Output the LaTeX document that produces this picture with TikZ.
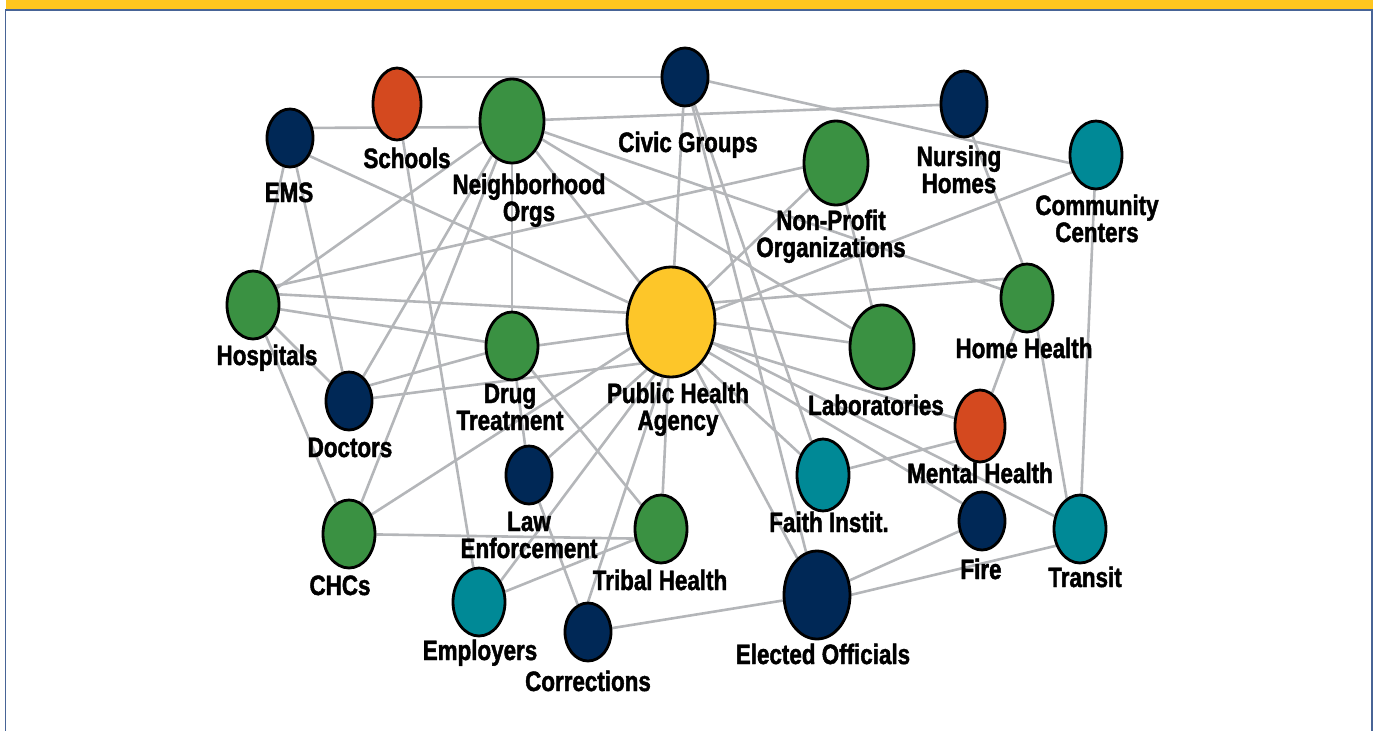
\documentclass[tikz,border=0pt]{standalone}
\usepackage{fontspec}
\newfontfamily\lblfont{Liberation Sans}[FakeStretch=0.80, FakeBold=1.6]
\usetikzlibrary{shapes.geometric,calc}
\pgfdeclarelayer{edges}
\pgfsetlayers{edges,main}
\definecolor{navy}{RGB}{0,40,86}
\definecolor{grn}{RGB}{58,145,66}
\definecolor{org}{RGB}{212,73,31}
\definecolor{tealc}{RGB}{0,137,150}
\definecolor{yel}{RGB}{253,198,41}
\definecolor{edgegray}{RGB}{180,182,185}
\definecolor{band}{RGB}{255,198,30}
\definecolor{frameblue}{RGB}{72,100,150}
\tikzset{
  orgn/.style={ellipse, draw=black, line width=2.8pt, inner sep=0pt},
  sm/.style={minimum width=46pt, minimum height=58pt},
  md/.style={minimum width=52pt, minimum height=68pt},
  lg/.style={minimum width=64pt, minimum height=84pt},
  lbl/.style={font=\lblfont\bfseries\fontsize{28}{27}\selectfont, align=center, inner sep=0pt, anchor=base},
  link/.style={draw=edgegray, line width=2.6pt},
}
\begin{document}
\begin{tikzpicture}[x=1pt,y=-1pt]
\useasboundingbox (0,0) rectangle (1377,731);
% frame
\fill[band] (5.5,0) rectangle (1372.5,9.5);
\draw[frameblue, line width=1.5pt] (5.5,731) -- (5.5,10) -- (1372,10) -- (1372,731);

% nodes
\node[orgn, sm, fill=navy] (EMS) at (290,138) {};
\node[orgn, fill=org, minimum width=48pt, minimum height=72pt] (SCH) at (397,104) {};
\node[orgn, lg, fill=grn] (NBH) at (512,121) {};
\node[orgn, sm, fill=navy] (CIV) at (685,77) {};
\node[orgn, lg, fill=grn] (NPO) at (836,163) {};
\node[orgn, fill=navy, minimum width=46pt, minimum height=66pt] (NUR) at (964,104) {};
\node[orgn, md, fill=tealc] (COM) at (1096,155) {};
\node[orgn, md, fill=grn] (HOS) at (253,305) {};
\node[orgn, sm, fill=navy] (DOC) at (349,401) {};
\node[orgn, md, fill=grn] (DRG) at (512,346) {};
\node[orgn, fill=yel, minimum width=88pt, minimum height=110pt] (PHA) at (671,322) {};
\node[orgn, lg, fill=grn] (LAB) at (882,347) {};
\node[orgn, md, fill=grn] (HOM) at (1027,298) {};
\node[orgn, fill=org, minimum width=50pt, minimum height=72pt] (MEN) at (980,426) {};
\node[orgn, fill=tealc, minimum width=52pt, minimum height=72pt] (FAI) at (823,475) {};
\node[orgn, sm, fill=navy] (LAW) at (529,475) {};
\node[orgn, md, fill=grn] (TRI) at (661,529) {};
\node[orgn, md, fill=tealc] (EMP) at (479,602) {};
\node[orgn, sm, fill=navy] (COR) at (588,632) {};
\node[orgn, fill=navy, minimum width=66pt, minimum height=88pt] (ELE) at (817,595) {};
\node[orgn, sm, fill=navy] (FIR) at (982,521) {};
\node[orgn, md, fill=tealc] (TRA) at (1080,529) {};
\node[orgn, md, fill=grn] (CHC) at (349,534) {};

% labels (base = baseline of last line)
\node[lbl] (lEMS) at (289,202) {EMS};
\node[lbl] (lSCH) at (407,168) {Schools};
\node[lbl] (lNBH) at (529,221) {Neighborhood\\Orgs};
\node[lbl] (lCIV) at (688,152) {Civic Groups};
\node[lbl] (lNPO) at (831,257) {Non-Profit\\Organizations};
\node[lbl] (lNUR) at (959,193) {Nursing\\Homes};
\node[lbl] (lCOM) at (1097,242) {Community\\Centers};
\node[lbl] (lHOS) at (267,365) {Hospitals};
\node[lbl] (lDOC) at (350,457) {Doctors};
\node[lbl] (lDRG) at (510,430) {Drug\\Treatment};
\node[lbl] (lPHA) at (678,430) {Public Health\\Agency};
\node[lbl] (lLAB) at (876,415) {Laboratories};
\node[lbl] (lHOM) at (1024,358) {Home Health};
\node[lbl] (lMEN) at (980,483) {Mental Health};
\node[lbl] (lFAI) at (829,532) {Faith Instit.};
\node[lbl] (lLAW) at (529,558) {Law\\Enforcement};
\node[lbl] (lTRI) at (660,590) {Tribal Health};
\node[lbl] (lEMP) at (480,660) {Employers};
\node[lbl] (lCOR) at (588,691) {Corrections};
\node[lbl] (lELE) at (823,664) {Elected Officials};
\node[lbl] (lFIR) at (981,579) {Fire};
\node[lbl] (lTRA) at (1085,587) {Transit};
\node[lbl] (lCHC) at (340,595) {CHCs};

% connectors
\begin{pgfonlayer}{edges}
\draw[link] ($(EMS)+(0,-10)$) -- ($(NBH)+(0,6)$);
\draw[link] (CIV) -- (CIV -| SCH);
\draw[link] ($(EMS)+(0,9)$) -- (PHA);
\draw[link] (EMS) -- (HOS);
\draw[link] (EMS) -- (DOC);
\draw[link] (SCH) -- (EMP);
\draw[link] (NBH) -- (HOS);
\draw[link] (NBH) -- (DOC);
\draw[link] (NBH) -- (CHC);
\draw[link] (NBH) -- (DRG);
\draw[link] (NBH) -- (PHA);
\draw[link] (NBH) -- (LAB);
\draw[link] (NBH) -- (HOM);
\draw[link] (NBH) -- (NUR);
\draw[link] ($(CIV)+(0,-1)$) -- ($(COM)+(0,14)$);
\draw[link] (CIV) -- (PHA);
\draw[link] (CIV) -- (FAI);
\draw[link] (CIV) -- (ELE);
\draw[link] ($(NPO)+(0,-3)$) -- ($(HOS)+(0,-14)$);
\draw[link] (NPO) -- (PHA);
\draw[link] (NPO) -- (LAB);
\draw[link] ($(NUR)+(-4,0)$) -- ($(HOM)+(9,0)$);
\draw[link] ($(COM)+(0,8)$) -- ($(PHA)+(0,5)$);
\draw[link] (COM) -- (TRA);
\draw[link] ($(HOS)+(0,-12)$) -- ($(PHA)+(0,-7)$);
\draw[link] (HOS) -- (DRG);
\draw[link] (HOS) -- (DOC);
\draw[link] (HOS) -- (CHC);
\draw[link] ($(DOC)+(0,-10)$) -- (DRG);
\draw[link] (DOC) -- ($(PHA)+(-11,39)$);
\draw[link] ($(DRG)+(0,3)$) -- ($(PHA)+(0,5)$);
\draw[link] (DRG) -- (LAW);
\draw[link] (DRG) -- (TRI);
\draw[link] (PHA) -- ($(CHC)+(0,-5)$);
\draw[link] (LAW) -- ($(PHA)+(0,26)$);
\draw[link] (PHA) -- (TRI);
\draw[link] ($(EMP)+(0,8)$) -- ($(PHA)+(0,31)$);
\draw[link] ($(COR)+(-10,0)$) -- ($(PHA)+(10,0)$);
\draw[link] (PHA) -- (ELE);
\draw[link] ($(PHA)+(0,13)$) -- (FAI);
\draw[link] ($(PHA)+(0,8)$) -- (MEN);
\draw[link] ($(PHA)+(0,8)$) -- ($(FIR)+(0,-6)$);
\draw[link] (PHA) -- (TRA);
\draw[link] ($(PHA)+(0,-5)$) -- (LAB);
\draw[link] ($(PHA)+(0,-16)$) -- ($(HOM)+(0,-21)$);
\draw[link] (HOM) -- (MEN);
\draw[link] ($(HOM)+(5,0)$) -- ($(TRA)+(-8,0)$);
\draw[link] (FAI) -- ($(MEN)+(0,9)$);
\draw[link] (FIR) -- (ELE);
\draw[link] ($(TRA)+(0,11)$) -- ($(ELE)+(0,8)$);
\draw[link] (COR) -- (ELE);
\draw[link] (LAW) -- (COR);
\draw[link] (CHC) -- ($(TRI)+(0,10)$);
\draw[link] (EMP) -- (TRI);
\end{pgfonlayer}
\end{tikzpicture}
\end{document}
